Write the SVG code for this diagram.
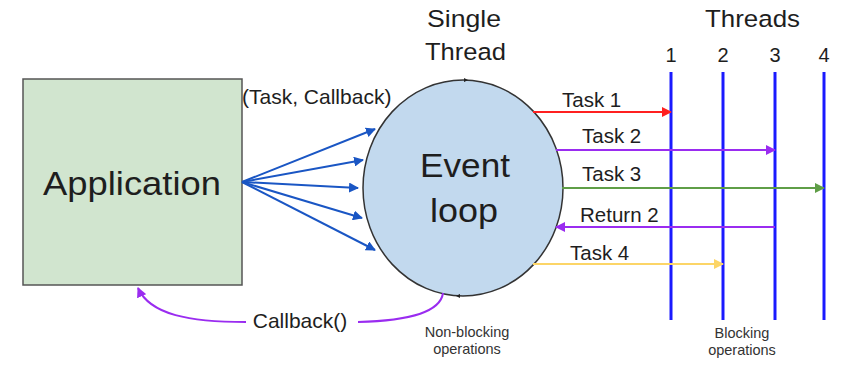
<svg xmlns="http://www.w3.org/2000/svg" width="856" height="373" viewBox="0 0 856 373">
<style>
text{font-family:"Liberation Sans",Arial,sans-serif;fill:#1e1e1e}
.big{font-size:33px}
.hd{font-size:24.5px}
.lb{font-size:20.5px}
.num{font-size:20px}
.sm{font-size:14.5px;fill:#333}
.th{stroke:#1a1aff;stroke-width:3}
</style>
<defs>
<marker id="ab" viewBox="0 0 10 10" refX="9" refY="5" markerWidth="5" markerHeight="5" orient="auto"><path d="M0,0L10,5L0,10z" fill="#1a56c4"/></marker>
<marker id="ar" viewBox="0 0 10 10" refX="9" refY="5" markerWidth="5" markerHeight="5" orient="auto"><path d="M0,0L10,5L0,10z" fill="#ff2020"/></marker>
<marker id="ap" viewBox="0 0 10 10" refX="9" refY="5" markerWidth="5" markerHeight="5" orient="auto"><path d="M0,0L10,5L0,10z" fill="#9a2cf0"/></marker>
<marker id="ag" viewBox="0 0 10 10" refX="9" refY="5" markerWidth="5" markerHeight="5" orient="auto"><path d="M0,0L10,5L0,10z" fill="#5f9e47"/></marker>
<marker id="ay" viewBox="0 0 10 10" refX="9" refY="5" markerWidth="5" markerHeight="5" orient="auto"><path d="M0,0L10,5L0,10z" fill="#fcd567"/></marker>
<marker id="ak" viewBox="0 0 10 10" refX="5" refY="5" markerWidth="4" markerHeight="4" orient="auto"><path d="M0,0L10,5L0,10z" fill="#222"/></marker>
</defs>

<g id="application">
<rect x="23" y="79" width="219" height="206" fill="#d1e5cf" stroke="#555" stroke-width="1.5"/>
<text class="big" x="43" y="195" textLength="178" lengthAdjust="spacingAndGlyphs">Application</text>
</g>

<g id="event-loop">
<ellipse cx="463" cy="188" rx="100" ry="108" fill="#c2d9ee" stroke="#333" stroke-width="1.5"/>
<path d="M458,80.1 L466,80.1" stroke="none" fill="none" marker-end="url(#ak)"/>
<path d="M466,295.9 L458,295.9" stroke="none" fill="none" marker-end="url(#ak)"/>
<text class="big" x="420" y="177" textLength="90" lengthAdjust="spacingAndGlyphs">Event</text>
<text class="big" x="430" y="222" textLength="68" lengthAdjust="spacingAndGlyphs">loop</text>
<text class="hd" x="427" y="27" textLength="74" lengthAdjust="spacingAndGlyphs">Single</text>
<text class="hd" x="425" y="60" textLength="81" lengthAdjust="spacingAndGlyphs">Thread</text>
<text class="sm" x="467" y="337" text-anchor="middle">Non-blocking</text>
<text class="sm" x="467" y="354" text-anchor="middle">operations</text>
</g>

<g id="threads">
<text class="hd" x="705" y="27" textLength="95" lengthAdjust="spacingAndGlyphs">Threads</text>
<text class="num" x="671" y="62" text-anchor="middle">1</text>
<text class="num" x="723" y="62" text-anchor="middle">2</text>
<text class="num" x="775" y="62" text-anchor="middle">3</text>
<text class="num" x="824" y="62" text-anchor="middle">4</text>
<line class="th" x1="671" y1="72" x2="671" y2="320"/>
<line class="th" x1="723" y1="72" x2="723" y2="320"/>
<line class="th" x1="775" y1="72" x2="775" y2="320"/>
<line class="th" x1="824" y1="72" x2="824" y2="320"/>
<text class="sm" x="742" y="338" text-anchor="middle">Blocking</text>
<text class="sm" x="742" y="355" text-anchor="middle">operations</text>
</g>

<g id="connectors" fill="none" stroke-width="2">
<g stroke="#1a56c4" stroke-width="2">
<line x1="242" y1="182" x2="375" y2="129" marker-end="url(#ab)"/>
<line x1="242" y1="182" x2="363" y2="160" marker-end="url(#ab)"/>
<line x1="242" y1="182" x2="358" y2="188" marker-end="url(#ab)"/>
<line x1="242" y1="182" x2="362" y2="218" marker-end="url(#ab)"/>
<line x1="242" y1="182" x2="375" y2="250" marker-end="url(#ab)"/>
</g>
<line x1="533" y1="112" x2="671" y2="112" stroke="#ff2020" marker-end="url(#ar)"/>
<line x1="556" y1="150" x2="775" y2="150" stroke="#9a2cf0" marker-end="url(#ap)"/>
<line x1="562" y1="188" x2="824" y2="188" stroke="#5f9e47" marker-end="url(#ag)"/>
<line x1="775" y1="227" x2="556" y2="227" stroke="#9a2cf0" marker-end="url(#ap)"/>
<line x1="533" y1="264" x2="723" y2="264" stroke="#fcd567" marker-end="url(#ay)"/>
<path d="M443,293 C440,315 400,321 358,322" stroke="#9a2cf0"/>
<path d="M246,322 C190,322 150,315 138,288" stroke="#9a2cf0" marker-end="url(#ap)"/>
<text class="lb" x="242" y="104" style="font-size:21px">(Task, Callback)</text>
<text class="lb" x="562" y="107">Task 1</text>
<text class="lb" x="582" y="143">Task 2</text>
<text class="lb" x="582" y="181">Task 3</text>
<text class="lb" x="580" y="222">Return 2</text>
<text class="lb" x="570" y="260">Task 4</text>
<text class="lb" x="300" y="328" text-anchor="middle" style="font-size:21px">Callback()</text>
</g>
</svg>
